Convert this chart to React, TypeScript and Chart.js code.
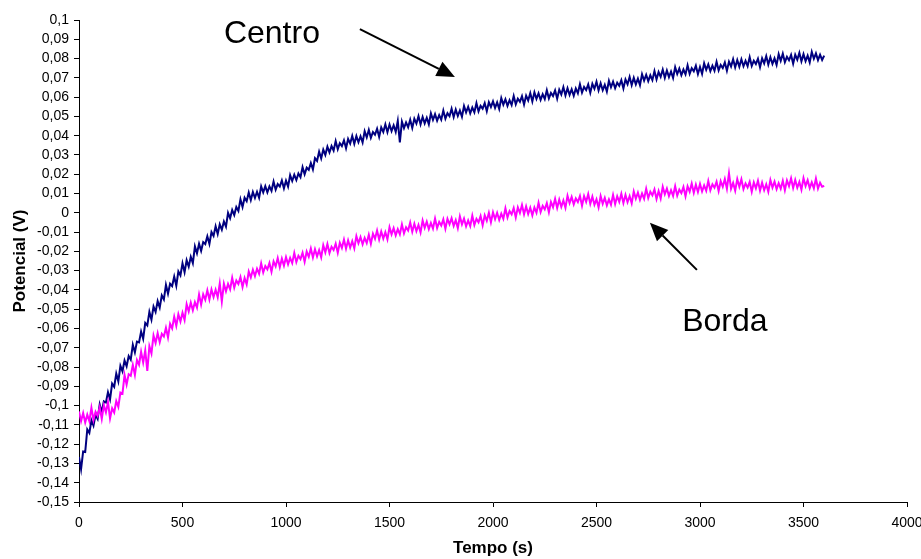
import React, { useEffect, useRef } from 'react';
import { Chart, registerables } from 'chart.js';

Chart.register(...registerables);

// Sampling interval of the recorded series (seconds)
const TIME_STEP_S = 10;

// Potencial (V) — "Centro" series, one value every 10 s from 0 to 3600 s (10 values per row = 100 s)
const centroValues = [
  -0.1266, -0.1330, -0.1238, -0.1241, -0.1124, -0.1142, -0.1076, -0.1104, -0.1048, -0.1069,
  -0.0994, -0.1034, -0.0978, -0.0984, -0.0931, -0.0968, -0.0886, -0.0902, -0.0834, -0.0874,
  -0.0794, -0.0822, -0.0766, -0.0796, -0.0743, -0.0762, -0.0684, -0.0724, -0.0668, -0.0672,
  -0.0616, -0.0654, -0.0571, -0.0584, -0.0514, -0.0554, -0.0486, -0.0514, -0.0458, -0.0491,
  -0.0428, -0.0449, -0.0374, -0.0419, -0.0368, -0.0380, -0.0331, -0.0378, -0.0304, -0.0325,
  -0.0262, -0.0308, -0.0246, -0.0279, -0.0228, -0.0261, -0.0174, -0.0210, -0.0161, -0.0197,
  -0.0152, -0.0162, -0.0122, -0.0161, -0.0100, -0.0120, -0.0070, -0.0110, -0.0060, -0.0088,
  -0.0045, -0.0072, 0.0000, -0.0028, 0.0015, -0.0012, 0.0030, 0.0010, 0.0070, 0.0030,
  0.0078, 0.0060, 0.0105, 0.0066, 0.0108, 0.0077, 0.0109, 0.0078, 0.0137, 0.0106,
  0.0138, 0.0106, 0.0137, 0.0114, 0.0162, 0.0120, 0.0149, 0.0136, 0.0168, 0.0127,
  0.0167, 0.0136, 0.0195, 0.0165, 0.0198, 0.0170, 0.0204, 0.0185, 0.0237, 0.0200,
  0.0234, 0.0223, 0.0258, 0.0225, 0.0283, 0.0269, 0.0317, 0.0282, 0.0328, 0.0300,
  0.0343, 0.0313, 0.0346, 0.0323, 0.0372, 0.0330, 0.0361, 0.0346, 0.0376, 0.0335,
  0.0383, 0.0359, 0.0399, 0.0358, 0.0398, 0.0366, 0.0397, 0.0365, 0.0423, 0.0391,
  0.0430, 0.0389, 0.0419, 0.0405, 0.0436, 0.0394, 0.0443, 0.0419, 0.0459, 0.0418,
  0.0458, 0.0424, 0.0454, 0.0420, 0.0477, 0.0365, 0.0473, 0.0439, 0.0469, 0.0444,
  0.0483, 0.0440, 0.0488, 0.0463, 0.0501, 0.0459, 0.0497, 0.0464, 0.0493, 0.0459,
  0.0516, 0.0482, 0.0512, 0.0478, 0.0507, 0.0483, 0.0530, 0.0488, 0.0517, 0.0501,
  0.0540, 0.0497, 0.0536, 0.0502, 0.0531, 0.0498, 0.0554, 0.0521, 0.0550, 0.0516,
  0.0546, 0.0521, 0.0569, 0.0526, 0.0555, 0.0540, 0.0569, 0.0527, 0.0574, 0.0549,
  0.0578, 0.0544, 0.0573, 0.0539, 0.0595, 0.0561, 0.0589, 0.0555, 0.0584, 0.0559,
  0.0606, 0.0563, 0.0592, 0.0576, 0.0605, 0.0562, 0.0608, 0.0583, 0.0621, 0.0578,
  0.0625, 0.0591, 0.0620, 0.0586, 0.0615, 0.0590, 0.0636, 0.0593, 0.0622, 0.0606,
  0.0635, 0.0592, 0.0639, 0.0614, 0.0652, 0.0609, 0.0646, 0.0612, 0.0641, 0.0607,
  0.0645, 0.0620, 0.0667, 0.0624, 0.0653, 0.0637, 0.0666, 0.0623, 0.0669, 0.0643,
  0.0680, 0.0635, 0.0672, 0.0636, 0.0664, 0.0629, 0.0685, 0.0651, 0.0680, 0.0646,
  0.0675, 0.0659, 0.0688, 0.0645, 0.0692, 0.0667, 0.0705, 0.0662, 0.0700, 0.0666,
  0.0696, 0.0662, 0.0719, 0.0686, 0.0716, 0.0683, 0.0713, 0.0688, 0.0735, 0.0692,
  0.0730, 0.0705, 0.0743, 0.0700, 0.0738, 0.0704, 0.0733, 0.0699, 0.0755, 0.0720,
  0.0748, 0.0714, 0.0743, 0.0718, 0.0765, 0.0721, 0.0750, 0.0734, 0.0763, 0.0719,
  0.0756, 0.0721, 0.0776, 0.0742, 0.0770, 0.0735, 0.0763, 0.0737, 0.0783, 0.0739,
  0.0767, 0.0751, 0.0780, 0.0737, 0.0784, 0.0759, 0.0797, 0.0754, 0.0792, 0.0758,
  0.0796, 0.0760, 0.0788, 0.0761, 0.0807, 0.0762, 0.0789, 0.0772, 0.0799, 0.0755,
  0.0801, 0.0775, 0.0813, 0.0769, 0.0807, 0.0772, 0.0801, 0.0767, 0.0823, 0.0788,
  0.0825, 0.0781, 0.0809, 0.0791, 0.0819, 0.0774, 0.0820, 0.0794, 0.0830, 0.0786,
  0.0823, 0.0787, 0.0815, 0.0780, 0.0835, 0.0799, 0.0827, 0.0792, 0.0820, 0.0793,
  0.0815,
];

// Potencial (V) — "Borda" series, one value every 10 s from 0 to 3600 s (10 values per row = 100 s)
const bordaValues = [
  -0.1031, -0.1081, -0.1039, -0.1088, -0.1047, -0.1081, -0.1011, -0.1074, -0.1032, -0.1053,
  -0.1009, -0.1069, -0.0999, -0.1035, -0.0981, -0.1066, -0.1014, -0.1036, -0.0977, -0.1007,
  -0.0932, -0.0938, -0.0841, -0.0891, -0.0837, -0.0845, -0.0789, -0.0841, -0.0764, -0.0788,
  -0.0721, -0.0776, -0.0714, -0.0820, -0.0692, -0.0729, -0.0636, -0.0675, -0.0624, -0.0671,
  -0.0628, -0.0642, -0.0596, -0.0646, -0.0576, -0.0600, -0.0539, -0.0586, -0.0526, -0.0564,
  -0.0518, -0.0556, -0.0474, -0.0512, -0.0466, -0.0506, -0.0463, -0.0492, -0.0424, -0.0476,
  -0.0423, -0.0451, -0.0402, -0.0450, -0.0398, -0.0437, -0.0399, -0.0438, -0.0367, -0.0460,
  -0.0368, -0.0407, -0.0369, -0.0397, -0.0337, -0.0388, -0.0351, -0.0369, -0.0333, -0.0385,
  -0.0338, -0.0372, -0.0305, -0.0335, -0.0295, -0.0328, -0.0290, -0.0316, -0.0262, -0.0309,
  -0.0276, -0.0293, -0.0260, -0.0306, -0.0252, -0.0278, -0.0235, -0.0282, -0.0238, -0.0274,
  -0.0230, -0.0267, -0.0234, -0.0261, -0.0208, -0.0255, -0.0223, -0.0240, -0.0207, -0.0254,
  -0.0201, -0.0228, -0.0185, -0.0232, -0.0189, -0.0226, -0.0194, -0.0231, -0.0168, -0.0205,
  -0.0162, -0.0209, -0.0176, -0.0193, -0.0160, -0.0207, -0.0155, -0.0182, -0.0139, -0.0186,
  -0.0143, -0.0180, -0.0147, -0.0184, -0.0121, -0.0158, -0.0126, -0.0163, -0.0130, -0.0157,
  -0.0114, -0.0161, -0.0108, -0.0135, -0.0092, -0.0139, -0.0097, -0.0134, -0.0101, -0.0138,
  -0.0075, -0.0112, -0.0080, -0.0117, -0.0085, -0.0112, -0.0060, -0.0107, -0.0075, -0.0092,
  -0.0050, -0.0098, -0.0057, -0.0095, -0.0063, -0.0102, -0.0040, -0.0078, -0.0046, -0.0085,
  -0.0053, -0.0082, -0.0030, -0.0079, -0.0047, -0.0066, -0.0034, -0.0083, -0.0031, -0.0060,
  -0.0028, -0.0068, -0.0038, -0.0079, -0.0019, -0.0060, -0.0030, -0.0070, -0.0040, -0.0069,
  -0.0015, -0.0063, -0.0031, -0.0049, -0.0017, -0.0065, -0.0013, -0.0041, 0.0000, -0.0049,
  0.0003, -0.0033, 0.0000, -0.0037, -0.0004, -0.0031, 0.0023, -0.0024, 0.0009, -0.0008,
  0.0025, -0.0024, 0.0028, -0.0001, 0.0040, -0.0008, 0.0033, -0.0006, 0.0026, -0.0013,
  0.0028, 0.0000, 0.0052, 0.0004, 0.0036, 0.0018, 0.0050, 0.0003, 0.0056, 0.0029,
  0.0072, 0.0025, 0.0068, 0.0031, 0.0064, 0.0026, 0.0088, 0.0050, 0.0082, 0.0044,
  0.0075, 0.0056, 0.0087, 0.0037, 0.0087, 0.0057, 0.0097, 0.0046, 0.0084, 0.0042,
  0.0070, 0.0028, 0.0087, 0.0047, 0.0078, 0.0039, 0.0070, 0.0042, 0.0093, 0.0045,
  0.0086, 0.0057, 0.0099, 0.0051, 0.0093, 0.0055, 0.0087, 0.0049, 0.0111, 0.0073,
  0.0105, 0.0067, 0.0100, 0.0073, 0.0125, 0.0077, 0.0109, 0.0090, 0.0121, 0.0072,
  0.0113, 0.0074, 0.0135, 0.0096, 0.0126, 0.0087, 0.0117, 0.0088, 0.0138, 0.0089,
  0.0120, 0.0102, 0.0134, 0.0086, 0.0138, 0.0110, 0.0152, 0.0104, 0.0146, 0.0108,
  0.0150, 0.0111, 0.0142, 0.0114, 0.0165, 0.0117, 0.0148, 0.0130, 0.0161, 0.0113,
  0.0164, 0.0135, 0.0175, 0.0125, 0.0205, 0.0125, 0.0155, 0.0115, 0.0175, 0.0135,
  0.0174, 0.0123, 0.0152, 0.0131, 0.0160, 0.0109, 0.0158, 0.0127, 0.0166, 0.0115,
  0.0156, 0.0117, 0.0148, 0.0109, 0.0170, 0.0131, 0.0162, 0.0123, 0.0154, 0.0125,
  0.0166, 0.0117, 0.0168, 0.0138, 0.0179, 0.0129, 0.0170, 0.0130, 0.0160, 0.0120,
  0.0180, 0.0139, 0.0169, 0.0128, 0.0158, 0.0127, 0.0177, 0.0126, 0.0156, 0.0135,
  0.0140,
];

// Axis ranges and tick steps
const xRange = [0, 4000];
const xTickStep = 500;
const yRange = [-0.15, 0.1];
const yTickStep = 0.01;

const xTitle = 'Tempo (s)';
const yTitle = 'Potencial (V)';

// Text annotations with arrows (in data coordinates)
const annotationLabels = ['Centro', 'Borda'];
const annotationTextAt = [[700, 0.0925], [2914, -0.0565]];
const annotationArrowFrom = [[1357, 0.0953], [2985, -0.0296]];
const annotationArrowTo = [[1816, 0.0705], [2758, -0.0052]];

const FONT = '"Liberation Sans", Arial, Helvetica, sans-serif';

const toPoints = (vals: number[]) => vals.map((v, i) => ({ x: i * TIME_STEP_S, y: v }));

const annotationPlugin = {
  id: 'arrowAnnotations',
  afterDraw(chart: any) {
    const { ctx, scales } = chart;
    const xs = scales.x;
    const ys = scales.y;
    ctx.save();
    ctx.fillStyle = '#000';
    ctx.strokeStyle = '#000';
    ctx.font = `32px ${FONT}`;
    ctx.textAlign = 'left';
    ctx.textBaseline = 'middle';
    annotationLabels.forEach((label, i) => {
      const tx = xs.getPixelForValue(annotationTextAt[i][0]);
      const ty = ys.getPixelForValue(annotationTextAt[i][1]);
      ctx.fillText(label, tx, ty);
      const x1 = xs.getPixelForValue(annotationArrowFrom[i][0]);
      const y1 = ys.getPixelForValue(annotationArrowFrom[i][1]);
      const x2 = xs.getPixelForValue(annotationArrowTo[i][0]);
      const y2 = ys.getPixelForValue(annotationArrowTo[i][1]);
      const ang = Math.atan2(y2 - y1, x2 - x1);
      const headLen = 18;
      const headHalf = 8;
      const bx = x2 - headLen * Math.cos(ang);
      const by = y2 - headLen * Math.sin(ang);
      ctx.lineWidth = 2;
      ctx.beginPath();
      ctx.moveTo(x1, y1);
      ctx.lineTo(bx, by);
      ctx.stroke();
      ctx.beginPath();
      ctx.moveTo(x2, y2);
      ctx.lineTo(bx + headHalf * Math.sin(ang), by - headHalf * Math.cos(ang));
      ctx.lineTo(bx - headHalf * Math.sin(ang), by + headHalf * Math.cos(ang));
      ctx.closePath();
      ctx.fill();
    });
    ctx.restore();
  },
};

const formatComma = (v: number) => {
  const n = Number(Number(v).toFixed(2));
  return String(n === 0 ? 0 : n).replace('.', ',');
};

export default function App() {
  const canvasRef = useRef<HTMLCanvasElement | null>(null);

  useEffect(() => {
    if (!canvasRef.current) return;
    const chart = new Chart(canvasRef.current, {
      type: 'line',
      data: {
        datasets: [
          {
            label: 'Borda',
            data: toPoints(bordaValues),
            borderColor: '#FF00FF',
            backgroundColor: '#FF00FF',
            borderWidth: 2,
            pointRadius: 0,
            tension: 0,
          },
          {
            label: 'Centro',
            data: toPoints(centroValues),
            borderColor: '#000080',
            backgroundColor: '#000080',
            borderWidth: 2,
            pointRadius: 0,
            tension: 0,
          },
        ],
      },
      options: {
        animation: false,
        responsive: true,
        maintainAspectRatio: false,
        parsing: false as any,
        layout: { padding: { top: 20, right: 14, left: 0, bottom: 0 } },
        plugins: {
          legend: { display: false },
          tooltip: { enabled: false },
        },
        scales: {
          x: {
            type: 'linear',
            min: xRange[0],
            max: xRange[1],
            ticks: {
              stepSize: xTickStep,
              color: '#000',
              font: { family: FONT, size: 14 },
              padding: 8,
              maxRotation: 0,
              autoSkip: false,
              callback: (v: any) => String(v),
            },
            grid: { drawOnChartArea: false, tickLength: 5, tickColor: '#000', tickWidth: 1 },
            border: { color: '#000', width: 1 },
            title: {
              display: true,
              text: xTitle,
              color: '#000',
              font: { family: FONT, size: 17, weight: 'bold' },
              padding: { top: 0, bottom: 0 },
            },
            afterFit: (s: any) => {
              s.height = 57;
              s.paddingLeft = 0;
              s.paddingRight = 0;
            },
          },
          y: {
            type: 'linear',
            min: yRange[0],
            max: yRange[1],
            ticks: {
              stepSize: yTickStep,
              color: '#000',
              font: { family: FONT, size: 14 },
              padding: 5,
              autoSkip: false,
              callback: (v: any) => formatComma(v),
            },
            grid: { drawOnChartArea: false, tickLength: 5, tickColor: '#000', tickWidth: 1 },
            border: { color: '#000', width: 1 },
            title: {
              display: true,
              text: yTitle,
              color: '#000',
              font: { family: FONT, size: 17, weight: 'bold' },
              padding: { top: 10, bottom: 0 },
            },
            afterFit: (s: any) => {
              s.width = 79;
              s.paddingTop = 0;
              s.paddingBottom = 0;
            },
          },
        },
      },
      plugins: [annotationPlugin],
    });
    return () => chart.destroy();
  }, []);

  return (
    <div style={{ position: 'fixed', left: 0, top: 0, width: 921, height: 559, background: '#fff' }}>
      <canvas ref={canvasRef} />
    </div>
  );
}
